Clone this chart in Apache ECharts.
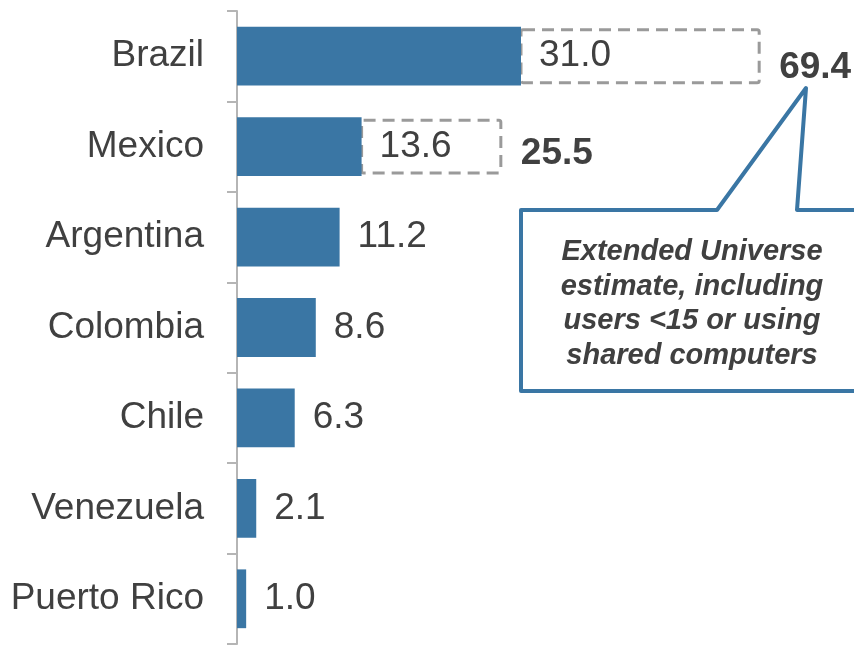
<!DOCTYPE html>
<html>
<head>
<meta charset="utf-8">
<script src="https://cdn.jsdelivr.net/npm/echarts@6/dist/echarts.min.js"></script>
<style>
  html, body { margin: 0; padding: 0; background: #fff; }
  #chart { width: 854px; height: 645px; }
</style>
</head>
<body>
<div id="chart"></div>
<script>
// Internet users by country (millions)
const countries = ['Brazil', 'Mexico', 'Argentina', 'Colombia', 'Chile', 'Venezuela', 'Puerto Rico'];
const users = [31.0, 13.6, 11.2, 8.6, 6.3, 2.1, 1.0];

// Extended Universe estimates (users <15 or on shared computers)
const extendedCountries = ['Brazil', 'Mexico'];
const extendedTotals = [69.4, 25.5];
// end of the dashed outline drawn after each bar, on the value axis
const extendedOutlineEnd = [57.0, 28.8];

const calloutText = 'Extended Universe\nestimate, including\nusers <15 or using\nshared computers';

const FONT = '"Liberation Sans", Arial, Helvetica, sans-serif';
const BAR = '#3a76a4';
const TEXT = '#404040';

const chart = echarts.init(document.getElementById('chart'), null, { renderer: 'canvas' });

const outlineData = extendedCountries.map((c, i) => [
  countries.indexOf(c), users[countries.indexOf(c)], extendedOutlineEnd[i], extendedTotals[i]
]);

chart.setOption({
  animation: false,
  backgroundColor: '#fff',
  grid: { left: 237, right: 0, top: 11, bottom: 1 },
  xAxis: {
    type: 'value', min: 0, max: 67.35, show: false
  },
  yAxis: {
    type: 'category',
    data: countries,
    inverse: true,
    axisLine: { show: true, lineStyle: { color: '#b5b5b5', width: 2 } },
    axisTick: { show: true, length: 10, lineStyle: { color: '#b5b5b5', width: 2 } },
    axisLabel: { margin: 33, fontSize: 37, color: TEXT, fontFamily: FONT, padding: [5, 0, 0, 0] }
  },
  series: [
    {
      type: 'bar',
      data: users,
      barWidth: '65%',
      itemStyle: { color: BAR },
      label: {
        show: true, position: 'right', distance: 18,
        fontSize: 37, color: TEXT, fontFamily: FONT, padding: [5, 0, 0, 0],
        formatter: p => p.value.toFixed(1)
      },
      z: 3
    },
    {
      type: 'custom',
      data: outlineData,
      z: 2,
      renderItem: function (params, api) {
        const cat = api.value(0);
        const p0 = api.coord([api.value(1), cat]);
        const p1 = api.coord([api.value(2), cat]);
        const band = api.size([0, 1])[1];
        const h = band * 0.585;
        const total = api.value(3);
        const offY = cat === 0 ? 12 : 7;
        return {
          type: 'group',
          children: [
            {
              type: 'rect',
              shape: { x: p0[0], y: p0[1] - h / 2, width: p1[0] - p0[0], height: h, r: 2 },
              style: { fill: 'none', stroke: '#9a9a9a', lineWidth: 3, lineDash: [12, 7] }
            },
            {
              type: 'text',
              style: {
                x: p1[0] + 20, y: p0[1] + offY,
                text: total.toFixed(1),
                font: 'bold 37px ' + FONT,
                fill: TEXT,
                textAlign: 'left', textVerticalAlign: 'middle'
              }
            }
          ]
        };
      }
    }
  ],
  graphic: [
    {
      type: 'polygon',
      z: 10,
      shape: {
        points: [[521, 210], [717, 210], [806, 88], [797, 210], [870, 210], [870, 391], [521, 391]]
      },
      style: { fill: '#fff', stroke: BAR, lineWidth: 4, lineJoin: 'round' }
    },
    {
      type: 'text',
      z: 11,
      x: 692, y: 304,
      style: {
        text: calloutText,
        font: 'italic bold 29px ' + FONT,
        fill: TEXT,
        textAlign: 'center', textVerticalAlign: 'middle',
        lineHeight: 34.5
      }
    }
  ]
});
</script>
</body>
</html>
